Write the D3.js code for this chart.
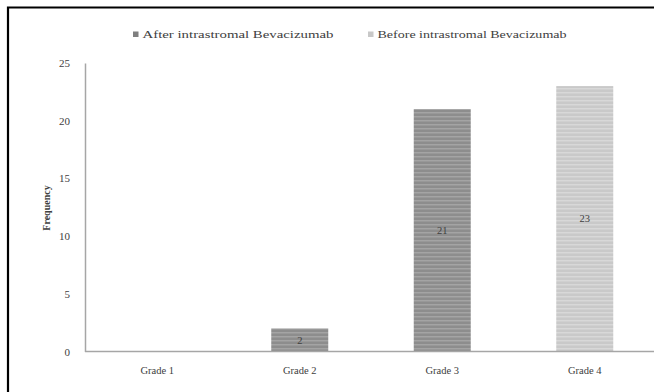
<!DOCTYPE html>
<html>
<head>
<meta charset="utf-8">
<script src="https://cdn.jsdelivr.net/npm/d3@7"></script>
<style>
  html, body { margin: 0; padding: 0; background: #fff; overflow: hidden; }
  svg { display: block; }
  text { font-family: "Liberation Serif", "DejaVu Serif", serif; fill: #404040; }
</style>
</head>
<body>
<svg id="chart" width="654" height="392"></svg>
<script>
// Grades on the x axis
const categories = ["Grade 1", "Grade 2", "Grade 3", "Grade 4"];
// Frequencies per grade for each series
const afterValues = [0, 2, 21, 0];
const beforeValues = [0, 0, 0, 23];
const seriesNames = ["After intrastromal Bevacizumab", "Before intrastromal Bevacizumab"];
const yTicks = [0, 5, 10, 15, 20, 25];

const W = 654, H = 392;
const svg = d3.select("#chart");

// Outer frame: only the top and left edges fall inside the view
svg.append("path")
  .attr("d", `M8,${H}V7.5H${W}`)
  .attr("fill", "none").attr("stroke", "#000").attr("stroke-width", 2.2);

// Stripe patterns for the bars
const defs = svg.append("defs");
function stripe(id, base, line) {
  const p = defs.append("pattern").attr("id", id)
    .attr("patternUnits", "userSpaceOnUse").attr("width", 6).attr("height", 4);
  p.append("rect").attr("width", 6).attr("height", 4).attr("fill", base);
  p.append("rect").attr("y", 0).attr("width", 6).attr("height", 1.5).attr("fill", line);
}
stripe("pAfter", "#8d8d8d", "#a4a4a4");
stripe("pBefore", "#c9c9c9", "#d8d8d8");
const fills = ["url(#pAfter)", "url(#pBefore)"];
const legendColors = ["#7f7f7f", "#c8c8c8"];

const x = d3.scaleBand().domain(categories).range([86, 656])
  .paddingInner(0.6).paddingOuter(0.3);
const y = d3.scaleLinear().domain([0, 25]).range([351.5, 63]);

// Table for stacking
const table = categories.map((c, i) => ({ cat: c, s0: afterValues[i], s1: beforeValues[i] }));
const stacked = d3.stack().keys(["s0", "s1"])(table);

const g = svg.append("g");
stacked.forEach((layer, si) => {
  const visible = layer.filter(d => d[1] - d[0] > 0);
  g.selectAll(null).data(visible).join("rect")
    .attr("x", d => x(d.data.cat))
    .attr("width", x.bandwidth())
    .attr("y", d => y(d[1]))
    .attr("height", d => y(d[0]) - y(d[1]))
    .attr("fill", fills[si]);
  g.selectAll(null).data(visible).join("text")
    .attr("x", d => x(d.data.cat) + x.bandwidth() / 2)
    .attr("y", d => (y(d[0]) + y(d[1])) / 2)
    .attr("dy", "0.35em")
    .attr("text-anchor", "middle")
    .attr("font-size", 10.5)
    .attr("fill", "#333")
    .text(d => d[1] - d[0]);
});

// Y axis: line plus labels, no tick marks
const yAxis = d3.axisLeft(y).tickValues(yTicks).tickSize(0).tickPadding(15);
const ya = svg.append("g").attr("transform", "translate(85,0)").call(yAxis);
ya.select(".domain").attr("stroke", "#a6a6a6").attr("stroke-width", 1.5);
ya.selectAll("text").attr("font-size", 11).attr("fill", "#595959")
  .style("font-family", "'Liberation Serif', serif");

// X axis
const xAxis = d3.axisBottom(x).tickSize(0).tickPadding(15);
const xa = svg.append("g").attr("transform", "translate(0,351.5)").call(xAxis);
xa.select(".domain").attr("stroke", "#a6a6a6").attr("stroke-width", 1.5)
  .attr("d", "M85,0H" + (W + 5));
xa.selectAll("text").attr("font-size", 10.5).attr("fill", "#595959")
  .style("font-family", "'Liberation Serif', serif");

// Y axis title
svg.append("text")
  .attr("transform", "translate(50,208) rotate(-90)")
  .attr("text-anchor", "middle")
  .attr("font-size", 10).attr("font-weight", "bold").attr("fill", "#404040")
  .text("Frequency");

// Legend
const legendX = [133, 368];
const legendW = [191, 189];
seriesNames.forEach((name, i) => {
  svg.append("rect").attr("x", legendX[i]).attr("y", 31.5)
    .attr("width", 5.5).attr("height", 5.5).attr("fill", legendColors[i]);
  svg.append("text").attr("x", legendX[i] + 9.5).attr("y", 38)
    .attr("font-size", 10.5).attr("fill", "#595959")
    .attr("textLength", legendW[i]).attr("lengthAdjust", "spacingAndGlyphs")
    .text(name);
});
</script>
</body>
</html>
